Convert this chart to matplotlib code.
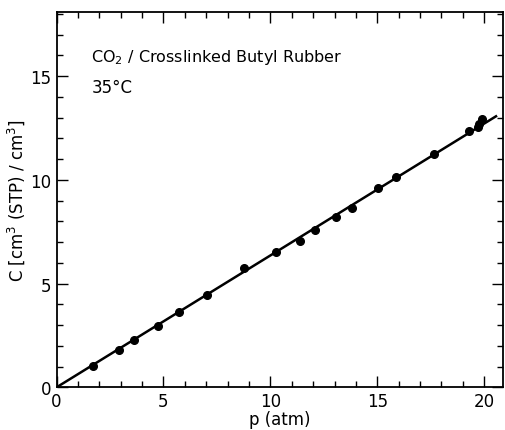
import numpy as np
import matplotlib
matplotlib.use("Agg")
import matplotlib.pyplot as plt
from matplotlib.ticker import MultipleLocator

# data
pressure = [1.72, 2.94, 3.62, 4.73, 5.74, 7.02, 8.75, 10.26, 11.38, 12.10,
            13.07, 13.80, 15.03, 15.86, 17.63, 19.30, 19.72, 19.75, 19.91]
conc = [1.05, 1.82, 2.29, 2.98, 3.62, 4.47, 5.75, 6.52, 7.05, 7.59,
        8.21, 8.65, 9.62, 10.16, 11.26, 12.35, 12.55, 12.71, 12.95]
fit_p = [0.0, 20.6]
fit_c = [0.0, 13.1]

plt.rcParams['font.family'] = ['DejaVu Sans']

fig = plt.figure(figsize=(5.05, 4.31), dpi=100)
ax = fig.add_axes([0.112, 0.099, 0.885, 0.871])

ax.plot(fit_p, fit_c, color='black', lw=1.8, solid_capstyle='butt')
ax.plot(pressure, conc, 'o', color='black', ms=5.5)

ax.set_xlim(0, 20.9)
ax.set_ylim(0, 18.1)
ax.xaxis.set_major_locator(MultipleLocator(5))
ax.xaxis.set_minor_locator(MultipleLocator(1))
ax.yaxis.set_major_locator(MultipleLocator(5))
ax.yaxis.set_minor_locator(MultipleLocator(1))
ax.tick_params(which='both', direction='in', top=True, right=True,
               labelsize=12, width=1, color='black')
ax.tick_params(which='major', length=8)
ax.tick_params(which='minor', length=4.5)
ax.tick_params(axis='y', pad=4)
for s in ax.spines.values():
    s.set_linewidth(1.3)

ax.set_xlabel('p (atm)', fontsize=12, labelpad=0)
ax.set_ylabel(r'C $\left[\mathregular{cm^3\ (STP)\ /\ cm^3}\right]$', fontsize=12, labelpad=2)

ax.text(0.078, 0.88, r'CO$_2$ / Crosslinked Butyl Rubber', transform=ax.transAxes,
        fontsize=11.5, va='center', ha='left')
ax.text(0.078, 0.80, '35°C', transform=ax.transAxes,
        fontsize=12, va='center', ha='left')

plt.savefig('out.png', dpi=100)
